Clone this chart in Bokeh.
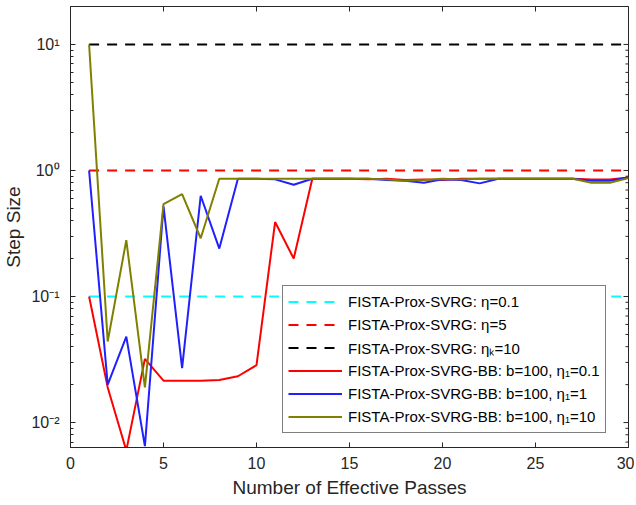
import math
from bokeh.plotting import figure
from bokeh.models import FixedTicker, CustomJSTickFormatter, Legend, ColumnDataSource
from bokeh.embed import file_html
from bokeh.resources import INLINE

# ---- data ----
passes = list(range(1, 31))
eta_01 = [0.1] * 30
eta_5 = [1.0] * 30
eta_10 = [10.0] * 30
bb_eta01 = [0.1, 0.019, 0.006, 0.032, 0.0215, 0.0215, 0.0215, 0.0218, 0.0233, 0.0285,
            0.39, 0.20, 0.86, 0.86, 0.86, 0.85, 0.86, 0.84, 0.85, 0.84,
            0.86, 0.86, 0.86, 0.86, 0.86, 0.86, 0.86, 0.85, 0.85, 0.88]
bb_eta1 = [1.0, 0.020, 0.048, 0.0065, 0.52, 0.027, 0.63, 0.24, 0.86, 0.86,
           0.85, 0.77, 0.86, 0.86, 0.86, 0.86, 0.84, 0.83, 0.80, 0.85,
           0.84, 0.79, 0.86, 0.86, 0.86, 0.86, 0.86, 0.83, 0.83, 0.88]
bb_eta10 = [10.0, 0.044, 0.28, 0.019, 0.54, 0.65, 0.29, 0.86, 0.86, 0.86,
            0.86, 0.86, 0.86, 0.86, 0.86, 0.86, 0.85, 0.83, 0.84, 0.86,
            0.85, 0.86, 0.86, 0.86, 0.86, 0.86, 0.86, 0.80, 0.80, 0.87]

labels = ["FISTA-Prox-SVRG: η=0.1",
          "FISTA-Prox-SVRG: η=5",
          "FISTA-Prox-SVRG: ηₖ=10",
          "FISTA-Prox-SVRG-BB: b=100, η₁=0.1",
          "FISTA-Prox-SVRG-BB: b=100, η₁=1",
          "FISTA-Prox-SVRG-BB: b=100, η₁=10"]

x_ticks = [0, 5, 10, 15, 20, 25, 30]
y_ticks = [0.01, 0.1, 1, 10]
y_minor = [m * 10.0 ** k for k in (-3, -2, -1, 0, 1) for m in range(2, 10)]

X_MIN, X_MAX = 0, 30
Y_MIN, Y_MAX = 0.00634, 20

FONT = "Liberation Sans"
AX = "#262626"

p = figure(x_range=(X_MIN, X_MAX), y_range=(Y_MIN, Y_MAX), y_axis_type="log",
           frame_width=558, frame_height=441,
           min_border_left=66, min_border_right=6, min_border_top=6, min_border_bottom=10,
           output_backend="svg", toolbar_location=None, background_fill_color="white")
p.xgrid.visible = False
p.ygrid.visible = False
p.outline_line_color = AX

src = ColumnDataSource(dict(x=passes, a=eta_01, b=eta_5, c=eta_10,
                            r=bb_eta01, u=bb_eta1, o=bb_eta10))
r1 = p.line("x", "a", source=src, line_color="#00FFFF", line_width=2, line_dash="10 8")
r2 = p.line("x", "b", source=src, line_color="#FF0000", line_width=2, line_dash="10 8")
r3 = p.line("x", "c", source=src, line_color="#000000", line_width=2, line_dash="10 8")
r4 = p.line("x", "r", source=src, line_color="#FF0000", line_width=2)
r5 = p.line("x", "u", source=src, line_color="#2020FF", line_width=2)
r6 = p.line("x", "o", source=src, line_color="#808000", line_width=2)

# mirrored box ticks on top and right (dash markers clipped by the frame -> inward ticks)
p.scatter(x=x_ticks, y=[Y_MAX] * len(x_ticks), marker="dash", angle=math.pi / 2,
          size=10, line_color=AX, line_width=1)
p.scatter(x=[X_MAX] * len(y_ticks), y=y_ticks, marker="dash", size=10,
          line_color=AX, line_width=1)
p.scatter(x=[X_MAX] * len(y_minor), y=y_minor, marker="dash", size=6,
          line_color=AX, line_width=1)

fmt = CustomJSTickFormatter(code="""
const e = Math.round(Math.log10(tick));
const sup = {'-':'\u207B','0':'\u2070','1':'\u00B9','2':'\u00B2','3':'\u00B3'};
return '10' + String(e).split('').map(c => sup[c]).join('');
""")

def style(ax):
    ax.axis_line_color = AX
    ax.major_tick_line_color = AX
    ax.minor_tick_line_color = AX
    ax.major_tick_in = 5
    ax.major_tick_out = 0
    ax.minor_tick_in = 3
    ax.minor_tick_out = 0
    ax.major_label_text_font = FONT
    ax.major_label_text_color = "#262626"
    ax.axis_label_text_font = FONT
    ax.axis_label_text_font_style = "normal"
    ax.axis_label_text_color = "#262626"

xa = p.xaxis[0]
xa.ticker = FixedTicker(ticks=x_ticks)
style(xa)
xa.major_label_text_font_size = "16px"
xa.major_label_standoff = 9
xa.axis_label = "Number of Effective Passes"
xa.axis_label_text_font_size = "19px"
xa.axis_label_standoff = 5

ya = p.yaxis[0]
ya.ticker = FixedTicker(ticks=y_ticks, minor_ticks=y_minor)
ya.formatter = fmt
style(ya)
ya.major_label_text_font_size = "16px"
ya.major_label_standoff = 11
ya.axis_label = "Step Size"
ya.axis_label_text_font_size = "19px"
ya.axis_label_standoff = 4

legend = Legend(items=[(labels[i], [r]) for i, r in enumerate([r1, r2, r3, r4, r5, r6])],
                location=(212, 14), label_text_font=FONT, label_text_font_size="15px",
                label_text_color="#000000",
                glyph_width=54, glyph_height=21, label_height=21, spacing=2,
                padding=5, margin=0, label_standoff=6,
                border_line_color="#000000", border_line_width=1,
                background_fill_color="white", background_fill_alpha=1.0)
p.add_layout(legend, "center")

open("out.html", "w").write(file_html(p, INLINE))
